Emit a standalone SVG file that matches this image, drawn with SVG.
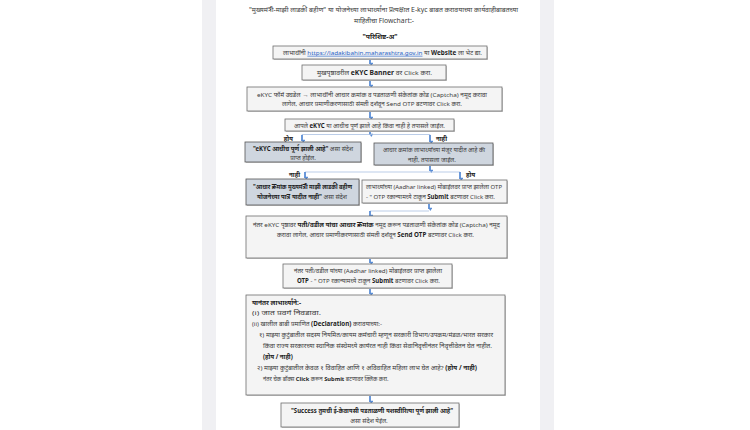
<svg xmlns="http://www.w3.org/2000/svg" width="750" height="430" viewBox="0 0 750 430">
<style>
.t{font-family:"Noto Sans","Noto Sans Devanagari","Lohit Devanagari","Liberation Sans",sans-serif;font-size:6.1px;fill:#3a3a3a;text-anchor:middle}
.l{text-anchor:start}
.b{font-weight:bold;fill:#1e1e1e}
.box{fill:#f4f4f4;stroke:#6e6e6e;stroke-width:0.8}
.boxb{fill:#cfd6df;stroke:#555;stroke-width:0.8}
.sh{fill:#c8c8c8}
.ar{stroke:#5b8ed6;stroke-width:1.8;fill:none;marker-end:url(#ah)}
.ln{stroke:#a9c0e2;stroke-width:0.8;fill:none}
.lab{font-family:"Noto Sans","Noto Sans Devanagari","Liberation Sans",sans-serif;font-size:6.2px;font-weight:bold;fill:#222}
</style>
<defs>
<marker id="ah" viewBox="0 0 6 6" refX="3" refY="5" markerWidth="2.2" markerHeight="2.2" orient="auto-start-reverse" markerUnits="strokeWidth">
<path d="M0,1 L6,1 L3,6 Z" fill="#5b8ed6" transform="rotate(-90 3 3)"/>
</marker>
</defs>
<rect x="0" y="0" width="750" height="430" fill="#ffffff"/>
<rect x="202" y="0" width="14" height="430" fill="#f0f0f3"/>
<rect x="540" y="0" width="14" height="430" fill="#f0f0f3"/>

<g id="title">
<text class="t" x="383.5" y="12" style="font-size:6.8px" textLength="269" lengthAdjust="spacingAndGlyphs">"मुख्यमंत्री-माझी लाडकी बहीण" या योजनेच्या लाभार्थ्यांना प्रत्यक्षात E-kyc बाबत करावयाच्या कार्यवाहीबाबतच्या</text>
<text class="t" x="384" y="22.5" style="font-size:6.8px">माहितीचा Flowchart:-</text>
<text class="t b" x="380" y="38.5" style="font-size:6.8px">"परिशिष्ट-अ"</text>
</g>

<g id="connectors">
<line class="ar" x1="370" y1="59" x2="370" y2="64"/>
<line class="ar" x1="370" y1="80.5" x2="370" y2="86"/>
<line class="ar" x1="370" y1="112" x2="370" y2="118"/>
<line class="ar" x1="370" y1="131.5" x2="370" y2="135"/>
<polyline class="ln" points="302,136 302,134.5 430,134.5 430,136"/>
<line class="ar" x1="302" y1="135" x2="302" y2="141"/>
<line class="ar" x1="430" y1="135" x2="430" y2="142"/>
<line class="ar" x1="430" y1="165.5" x2="430" y2="171"/>
<polyline class="ln" points="305,173 305,172 460,172 460,173"/>
<line class="ar" x1="305" y1="172" x2="305" y2="178"/>
<line class="ar" x1="460" y1="172" x2="460" y2="179"/>
<line class="ar" x1="429" y1="203.5" x2="429" y2="209"/>
<polyline class="ln" points="370,212 370,211 429,211"/>
<line class="ar" x1="370" y1="211" x2="370" y2="216"/>
<line class="ar" x1="370" y1="258.5" x2="370" y2="263"/>
<line class="ar" x1="370" y1="288.5" x2="370" y2="294"/>
<line class="ar" x1="370" y1="395.5" x2="370" y2="402"/>
<text class="lab" x="293" y="140.5" text-anchor="end">होय</text>
<text class="lab" x="436" y="140.5">नाही</text>
<text class="lab" x="300" y="176.5" text-anchor="end">नाही</text>
<text class="lab" x="466" y="176.5">होय</text>
</g>

<g id="n1">
<rect class="sh" x="274" y="47" width="214" height="13"/>
<rect class="box" x="273" y="46" width="214" height="13"/>
<text class="t" x="382.5" y="54.8" textLength="199" lengthAdjust="spacingAndGlyphs">लाभार्थींनी <tspan fill="#1f5fc7" text-decoration="underline">https://ladakibahin.maharashtra.gov.in</tspan> या <tspan class="b">Website</tspan> ला भेट द्या.</text>
</g>

<g id="n2">
<rect class="sh" x="303" y="66" width="144" height="15"/>
<rect class="box" x="302" y="65" width="144" height="15"/>
<text class="t" x="374.5" y="74.8" textLength="115" lengthAdjust="spacingAndGlyphs">मुखपृष्ठावरील <tspan class="b">eKYC Banner</tspan> वर Click करा.</text>
</g>

<g id="n3">
<rect class="sh" x="248" y="88" width="255" height="24"/>
<rect class="box" x="247" y="87" width="255" height="24"/>
<text class="t" x="372" y="96.5" textLength="230" lengthAdjust="spacingAndGlyphs">eKYC फॉर्म उघडेल → लाभार्थींनी आधार क्रमांक व  पडताळणी संकेतांक कोड (Captcha) नमूद करावा</text>
<text class="t" x="372" y="106" textLength="180" lengthAdjust="spacingAndGlyphs">लागेल, आधार प्रमाणीकरणासाठी संमती दर्शवून Send OTP बटणावर Click करा.</text>
</g>

<g id="n4">
<rect class="sh" x="286" y="120" width="169" height="12"/>
<rect class="box" x="285" y="119" width="169" height="12"/>
<text class="t" x="369.5" y="127.5" textLength="151" lengthAdjust="spacingAndGlyphs">आपले <tspan class="b">eKYC</tspan> या आधीच पूर्ण झाले आहे किंवा नाही हे तपासले जाईल.</text>
</g>

<g id="n5">
<rect class="sh" x="246" y="143" width="116" height="20"/>
<rect class="boxb" x="245" y="142" width="116" height="20"/>
<text class="t" x="303" y="150.5" textLength="100" lengthAdjust="spacingAndGlyphs"><tspan class="b">"eKYC आधीच पूर्ण झाली आहे"</tspan> असा संदेश</text>
<text class="t" x="303" y="159.5">प्राप्त होईल.</text>
</g>

<g id="n6">
<rect class="sh" x="375" y="144" width="119" height="22"/>
<rect class="boxb" x="374" y="143" width="119" height="22"/>
<text class="t" x="434" y="152" textLength="102" lengthAdjust="spacingAndGlyphs">आधार क्रमांक लाभार्थ्यांच्या मंजूर यादीत आहे की</text>
<text class="t" x="432" y="161.5">नाही, तपासला जाईल.</text>
</g>

<g id="n7">
<rect class="sh" x="247" y="180" width="113" height="26"/>
<rect class="boxb" x="246" y="179" width="113" height="26"/>
<text class="t b" x="302.5" y="189" textLength="99" lengthAdjust="spacingAndGlyphs">"आधार क्रमांक मुख्यमंत्री माझी लाडकी बहीण</text>
<text class="t" x="302" y="198.5" textLength="90" lengthAdjust="spacingAndGlyphs"><tspan class="b">योजनेच्या पात्र यादीत नाही"</tspan> असा संदेश</text>
</g>

<g id="n8">
<rect class="sh" x="363" y="181" width="145" height="23"/>
<rect class="box" x="362" y="180" width="145" height="23"/>
<text class="t" x="434" y="189" textLength="136" lengthAdjust="spacingAndGlyphs">लाभार्थ्यांच्या (Aadhar linked) मोबाईलवर प्राप्त झालेला OTP</text>
<text class="t" x="430.5" y="198.5" textLength="129" lengthAdjust="spacingAndGlyphs">- " OTP रकान्यामध्ये टाकून <tspan class="b">Submit</tspan> बटणावर Click करा.</text>
</g>

<g id="n9">
<rect class="sh" x="247" y="217" width="261" height="42"/>
<rect class="box" x="246" y="216" width="261" height="42"/>
<text class="t" x="376.5" y="227" textLength="247" lengthAdjust="spacingAndGlyphs">नंतर eKYC पृष्ठावर <tspan class="b">पती/वडील यांचा आधार क्रमांक</tspan> नमूद करून पडताळणी संकेतांक कोड (Captcha) नमूद</text>
<text class="t" x="375.5" y="236.5" textLength="197" lengthAdjust="spacingAndGlyphs">करावा लागेल, आधार प्रमाणीकरणासाठी संमती दर्शवून <tspan class="b">Send OTP</tspan> बटणावर Click करा.</text>
</g>

<g id="n10">
<rect class="sh" x="284" y="265" width="169" height="24"/>
<rect class="box" x="283" y="264" width="169" height="24"/>
<text class="t" x="368" y="273" textLength="148" lengthAdjust="spacingAndGlyphs">नंतर पती/वडील यांच्या (Aadhar linked) मोबाईलवर प्राप्त झालेला</text>
<text class="t" x="368.5" y="283" textLength="143" lengthAdjust="spacingAndGlyphs"><tspan class="b">OTP</tspan> - " OTP रकान्यामध्ये टाकून <tspan class="b">Submit</tspan> बटणावर Click करा.</text>
</g>

<g id="n11">
<rect class="sh" x="247" y="296" width="259" height="100"/>
<rect class="box" x="246" y="295" width="259" height="100"/>
<text class="t l b" x="252" y="304.5" style="font-size:7px" textLength="49" lengthAdjust="spacingAndGlyphs">यानंतर लाभार्थ्यांने:-</text>
<text class="t l" x="252" y="314.5" textLength="69" lengthAdjust="spacingAndGlyphs">(i) जात प्रवर्ग निवडावा.</text>
<text class="t l" x="252" y="325.5" textLength="130" lengthAdjust="spacingAndGlyphs">(ii) खालील बाबी प्रमाणित <tspan class="b">(Declaration)</tspan> करावयाच्या:-</text>
<text class="t l" x="259" y="336.5" textLength="234" lengthAdjust="spacingAndGlyphs">१) माझ्या कुटुंबातील सदस्य नियमित/कायम कर्मचारी म्हणून सरकारी विभाग/उपक्रम/मंडळ/भारत सरकार</text>
<text class="t l" x="263" y="347.5" textLength="229" lengthAdjust="spacingAndGlyphs">किंवा राज्य सरकारच्या स्थानिक संस्थेमध्ये कार्यरत नाही किंवा सेवानिवृत्तीनंतर निवृत्तीवेतन घेत नाहीत.</text>
<text class="t l b" x="263" y="358.5">(होय / नाही)</text>
<text class="t l" x="257" y="369.5" textLength="220" lengthAdjust="spacingAndGlyphs">२) माझ्या कुटुंबातील केवळ १ विवाहित आणि १ अविवाहित महिला लाभ घेत आहे? <tspan class="b">(होय / नाही)</tspan></text>
<text class="t l" x="263" y="380.5" style="font-size:5.7px">नंतर चेक बॉक्स <tspan class="b">Click</tspan> करून <tspan class="b">Submit</tspan> बटणावर क्लिक करा.</text>
</g>

<g id="n12">
<rect class="sh" x="282" y="404" width="178" height="24"/>
<rect class="box" x="281" y="403" width="178" height="24"/>
<text class="t b" x="372" y="412.5" textLength="162" lengthAdjust="spacingAndGlyphs">"Success तुमची ई-केवायसी पडताळणी यशस्वीरित्या पूर्ण झाली आहे"</text>
<text class="t" x="369" y="422.5">असा संदेश येईल.</text>
</g>
</svg>
